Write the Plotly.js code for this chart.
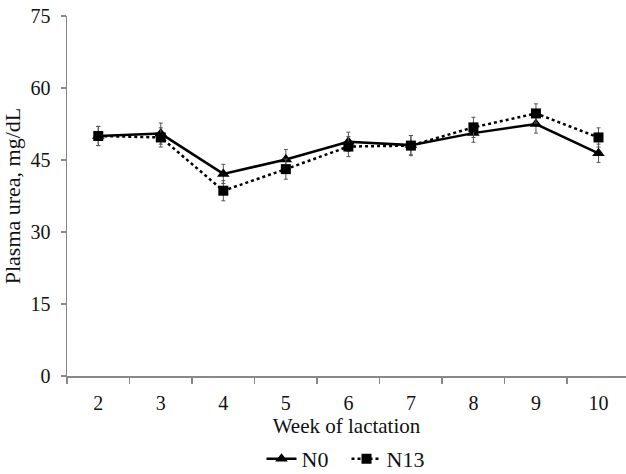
<!DOCTYPE html>
<html>
<head>
<meta charset="utf-8">
<script src="https://cdn.plot.ly/plotly-3.0.1.min.js"></script>
<style>html,body{margin:0;padding:0;background:#fff;}#chart{width:626px;height:474px;}</style>
</head>
<body>
<div id="chart"></div>
<script>
const weeks = ["2","3","4","5","6","7","8","9","10"];
const n0 = [50.0, 50.5, 42.1, 45.1, 48.8, 48.1, 50.6, 52.5, 46.4];
const n0Err = [2.0, 2.2, 2.0, 2.1, 2.0, 2.0, 1.9, 1.9, 1.9];
const n13 = [50.0, 49.7, 38.6, 43.1, 47.8, 48.0, 51.8, 54.7, 49.7];
const n13Err = [2.0, 2.0, 2.1, 2.1, 2.1, 2.1, 2.1, 2.0, 2.0];

const font = "'Liberation Serif', 'Times New Roman', serif";
const traces = [
  {
    x: weeks, y: n0, name: "N0", type: "scatter", mode: "lines+markers",
    line: {color: "#000", width: 2.5, dash: "solid"},
    marker: {symbol: "triangle-up", size: 11, color: "#000"},
    error_y: {type: "data", array: n0Err, visible: true, color: "#555", thickness: 1, width: 2}
  },
  {
    x: weeks, y: n13, name: "N13", type: "scatter", mode: "lines+markers",
    line: {color: "#000", width: 2.5, dash: "dot"},
    marker: {symbol: "square", size: 10, color: "#000"},
    error_y: {type: "data", array: n13Err, visible: true, color: "#555", thickness: 1, width: 2}
  }
];
const layout = {
  width: 626, height: 474,
  margin: {l: 67, r: 0, t: 16, b: 98},
  paper_bgcolor: "#fff", plot_bgcolor: "#fff",
  font: {family: font, color: "#111", size: 20},
  showlegend: true,
  legend: {orientation: "h", x: 0.5, xanchor: "center", yref: "container", y: 0.032, yanchor: "middle",
           font: {family: font, size: 22, color: "#111"}, itemwidth: 30, tracegroupgap: 0,
           entrywidth: 40, entrywidthmode: "pixels"},
  xaxis: {
    type: "category", range: [-0.5, 8.44], tickson: "boundaries", automargin: false,
    showline: true, linecolor: "#888", linewidth: 1.5,
    ticks: "outside", ticklen: 6, tickcolor: "#888", tickwidth: 1.5,
    showgrid: false, zeroline: false, ticklabelstandoff: 8,
    tickfont: {family: font, size: 20, color: "#111"},
    title: {text: "Week of lactation", font: {family: font, size: 21, color: "#111"}, standoff: 10}
  },
  yaxis: {
    range: [0, 75], dtick: 15, tick0: 0, automargin: false,
    showline: true, linecolor: "#888", linewidth: 1.5,
    ticks: "outside", ticklen: 5, tickcolor: "#888", tickwidth: 1.5,
    showgrid: false, zeroline: false, ticklabelstandoff: 6,
    tickfont: {family: font, size: 20, color: "#111"},
    title: {text: "Plasma urea, mg/dL", font: {family: font, size: 22, color: "#111"}, standoff: 6}
  }
};
Plotly.newPlot("chart", traces, layout, {displayModeBar: false, staticPlot: true});
</script>
</body>
</html>
